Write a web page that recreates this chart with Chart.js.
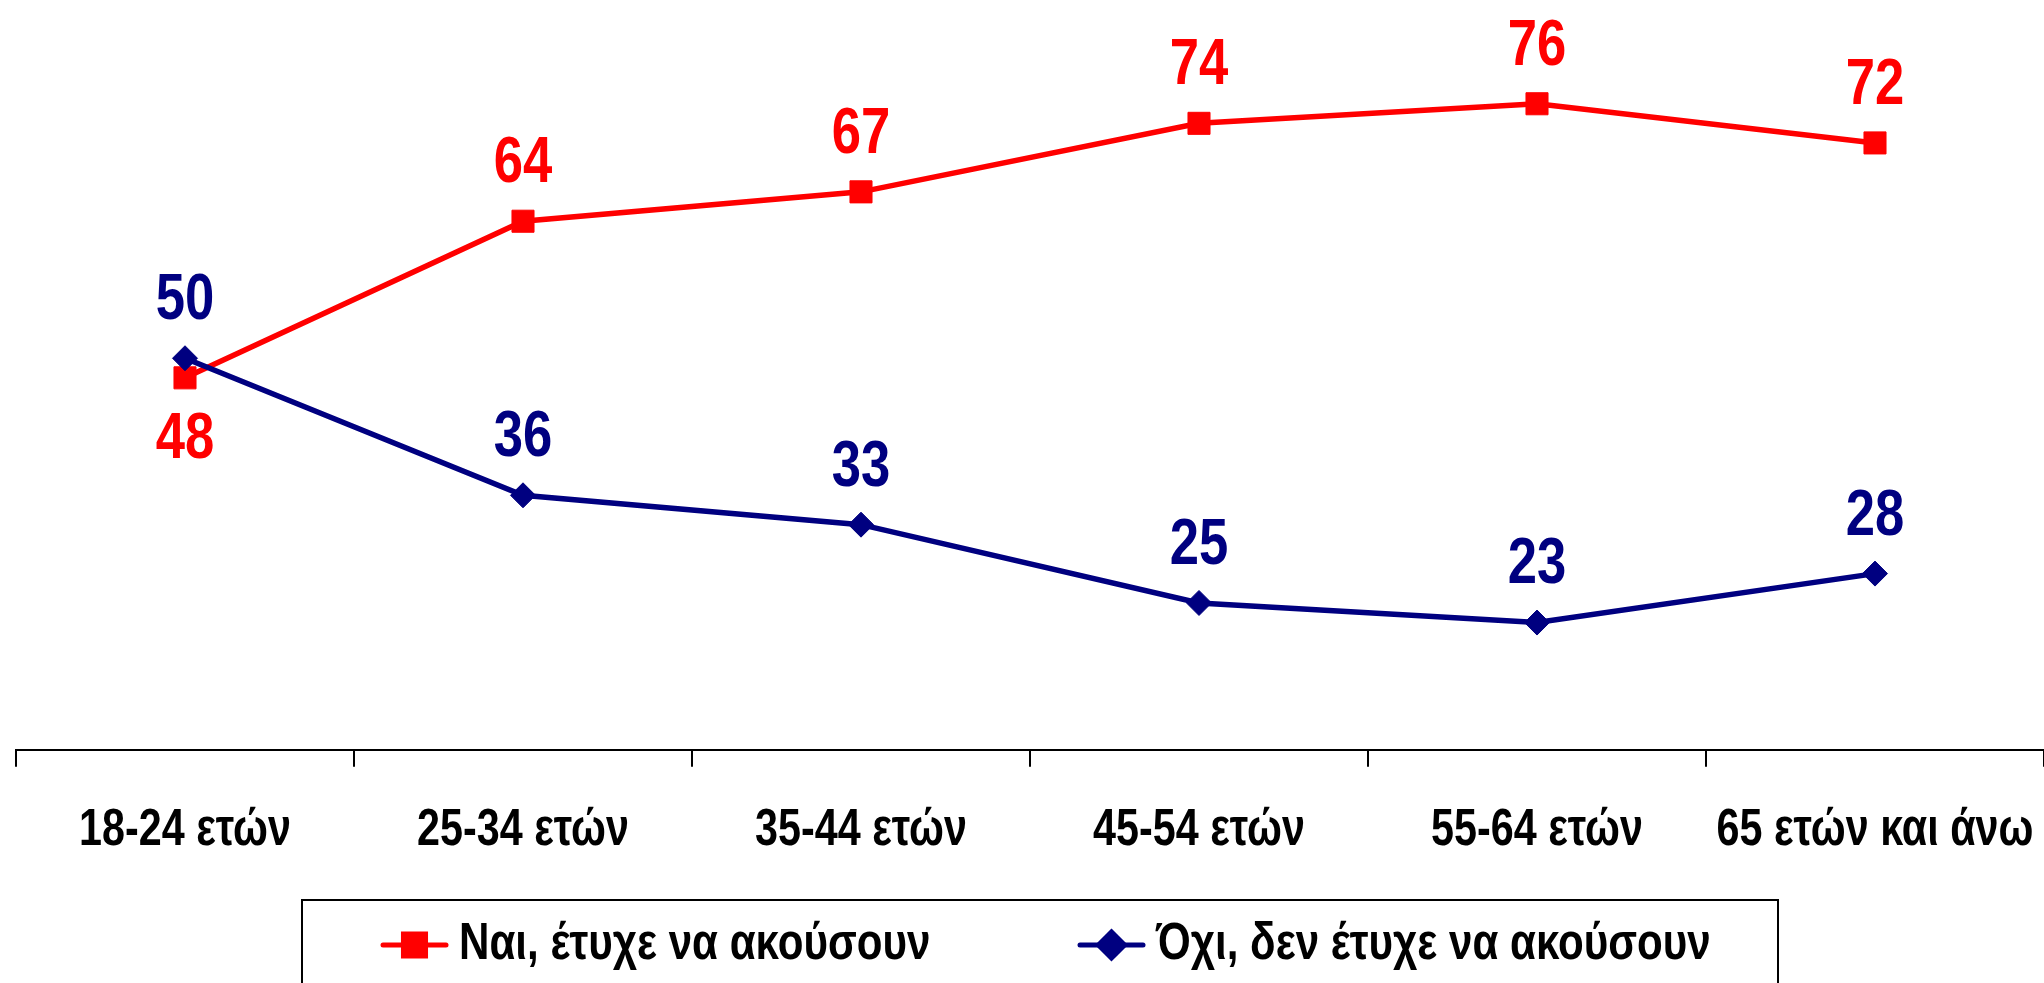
<!DOCTYPE html>
<html lang="el">
<head>
    <meta charset="UTF-8">
    <title>Ηλικιακές ομάδες</title>
    <style>
        body {
            margin: 0;
            padding: 0;
            background: #fff;
            overflow: hidden;
        }
        .wrap {
            width: 2044px;
            height: 983px;
            position: relative;
        }
    </style>
</head>
<body>
    <div class="wrap"><canvas id="chart"></canvas></div>

    <script src="https://cdn.jsdelivr.net/npm/chart.js"></script>
    <script>
        // data
        const categories = ['18-24 ετών', '25-34 ετών', '35-44 ετών', '45-54 ετών', '55-64 ετών', '65 ετών και άνω'];
        const yesValues = [48, 64, 67, 74, 76, 72];
        const noValues = [50, 36, 33, 25, 23, 28];
        const seriesNames = ['Ναι, έτυχε να ακούσουν', 'Όχι, δεν έτυχε να ακούσουν'];

        // no narrow font installed, so Liberation Sans Bold squeezed sideways
        const FONT = "'Liberation Sans', Arial, sans-serif";
        const SQUEEZE = 0.81;
        const RED = '#ff0000';
        const NAVY = '#000080';

        function narrowText(ctx, text, x, y) {
            ctx.save();
            ctx.translate(x, y);
            ctx.scale(SQUEEZE, 1);
            ctx.fillText(text, 0, 0);
            ctx.restore();
        }

        // value labels next to each point
        const valueLabels = {
            id: 'valueLabels',
            afterDatasetsDraw(chart) {
                const ctx = chart.ctx;
                ctx.save();
                ctx.font = 'bold 65px ' + FONT;
                ctx.textAlign = 'center';
                ctx.textBaseline = 'middle';
                chart.data.datasets.forEach((ds, i) => {
                    const meta = chart.getDatasetMeta(i);
                    const other = chart.data.datasets[1 - i];
                    ctx.fillStyle = ds.borderColor;
                    meta.data.forEach((pt, j) => {
                        const below = ds.labelBelowIfLower && ds.data[j] < other.data[j];
                        narrowText(ctx, String(ds.data[j]), pt.x, pt.y + (below ? 62 : -57));
                    });
                });
                ctx.restore();
            }
        };

        // category labels: the axis lays them out (transparent), we paint them narrow
        const narrowTicks = {
            id: 'narrowTicks',
            afterDraw(chart) {
                const ctx = chart.ctx;
                const xs = chart.scales.x;
                ctx.save();
                ctx.font = 'bold 51px ' + FONT;
                ctx.fillStyle = '#000';
                ctx.textAlign = 'center';
                ctx.textBaseline = 'middle';
                xs.ticks.forEach((t, i) => {
                    narrowText(ctx, xs.getLabelForValue(t.value), xs.getPixelForTick(i), 831);
                });
                ctx.restore();
            }
        };

        // boxed legend, line through the marker like the original
        const boxLegend = {
            id: 'boxLegend',
            afterDraw(chart) {
                const ctx = chart.ctx;
                const box = { left: 302, top: 900, right: 1778, bottom: 995 };
                const cy = 945;
                ctx.save();
                ctx.strokeStyle = '#000';
                ctx.lineWidth = 2;
                ctx.strokeRect(box.left, box.top, box.right - box.left, box.bottom - box.top);
                const starts = [383, 1080];
                ctx.font = 'bold 52px ' + FONT;
                ctx.textBaseline = 'middle';
                chart.data.datasets.forEach((ds, i) => {
                    const x = starts[i];
                    ctx.strokeStyle = ds.borderColor;
                    ctx.lineWidth = 5;
                    ctx.lineCap = 'round';
                    ctx.beginPath();
                    ctx.moveTo(x, cy);
                    ctx.lineTo(x + 63, cy);
                    ctx.stroke();
                    Chart.helpers.drawPoint(ctx, {
                        pointStyle: ds.pointStyle,
                        radius: ds.pointStyle === 'rect' ? 15.6 : 13,
                        borderWidth: 1
                    }, x + 31.5, cy);
                    ctx.fillStyle = ds.pointBackgroundColor;
                    ctx.fill();
                    ctx.fillStyle = '#000';
                    ctx.textAlign = 'left';
                    narrowText(ctx, ds.label, x + 76, cy);
                });
                ctx.restore();
            }
        };

        new Chart(document.getElementById('chart'), {
            type: 'line',
            data: {
                labels: categories,
                datasets: [{
                    label: seriesNames[0],
                    data: yesValues,
                    borderColor: RED,
                    backgroundColor: RED,
                    pointBackgroundColor: RED,
                    pointBorderColor: RED,
                    borderWidth: 5.5,
                    pointStyle: 'rect',
                    pointRadius: 15.6,
                    pointBorderWidth: 1,
                    tension: 0,
                    labelBelowIfLower: true,
                    order: 1
                }, {
                    label: seriesNames[1],
                    data: noValues,
                    borderColor: NAVY,
                    backgroundColor: NAVY,
                    pointBackgroundColor: NAVY,
                    pointBorderColor: NAVY,
                    borderWidth: 5.5,
                    pointStyle: 'rectRot',
                    pointRadius: 12.5,
                    pointBorderWidth: 1,
                    tension: 0,
                    order: 0
                }]
            },
            options: {
                responsive: true,
                maintainAspectRatio: false,
                animation: false,
                layout: {
                    autoPadding: false,
                    padding: { left: 16, right: 0, top: 0, bottom: 93 }
                },
                plugins: {
                    legend: { display: false },
                    tooltip: { enabled: false }
                },
                scales: {
                    y: {
                        display: false,
                        min: 10,
                        max: 86.6
                    },
                    x: {
                        offset: true,
                        afterFit(scale) {
                            scale.paddingLeft = 0;
                            scale.paddingRight = 0;
                        },
                        border: { display: true, color: '#000', width: 2 },
                        grid: {
                            offset: true,
                            drawOnChartArea: false,
                            drawTicks: true,
                            tickLength: 17,
                            color: '#000',
                            lineWidth: 2
                        },
                        ticks: {
                            color: 'rgba(0,0,0,0)',
                            padding: 31,
                            maxRotation: 0,
                            autoSkip: false,
                            font: { family: FONT, size: 51, weight: 'bold' }
                        }
                    }
                }
            },
            plugins: [valueLabels, narrowTicks, boxLegend]
        });
    </script>
</body>
</html>
